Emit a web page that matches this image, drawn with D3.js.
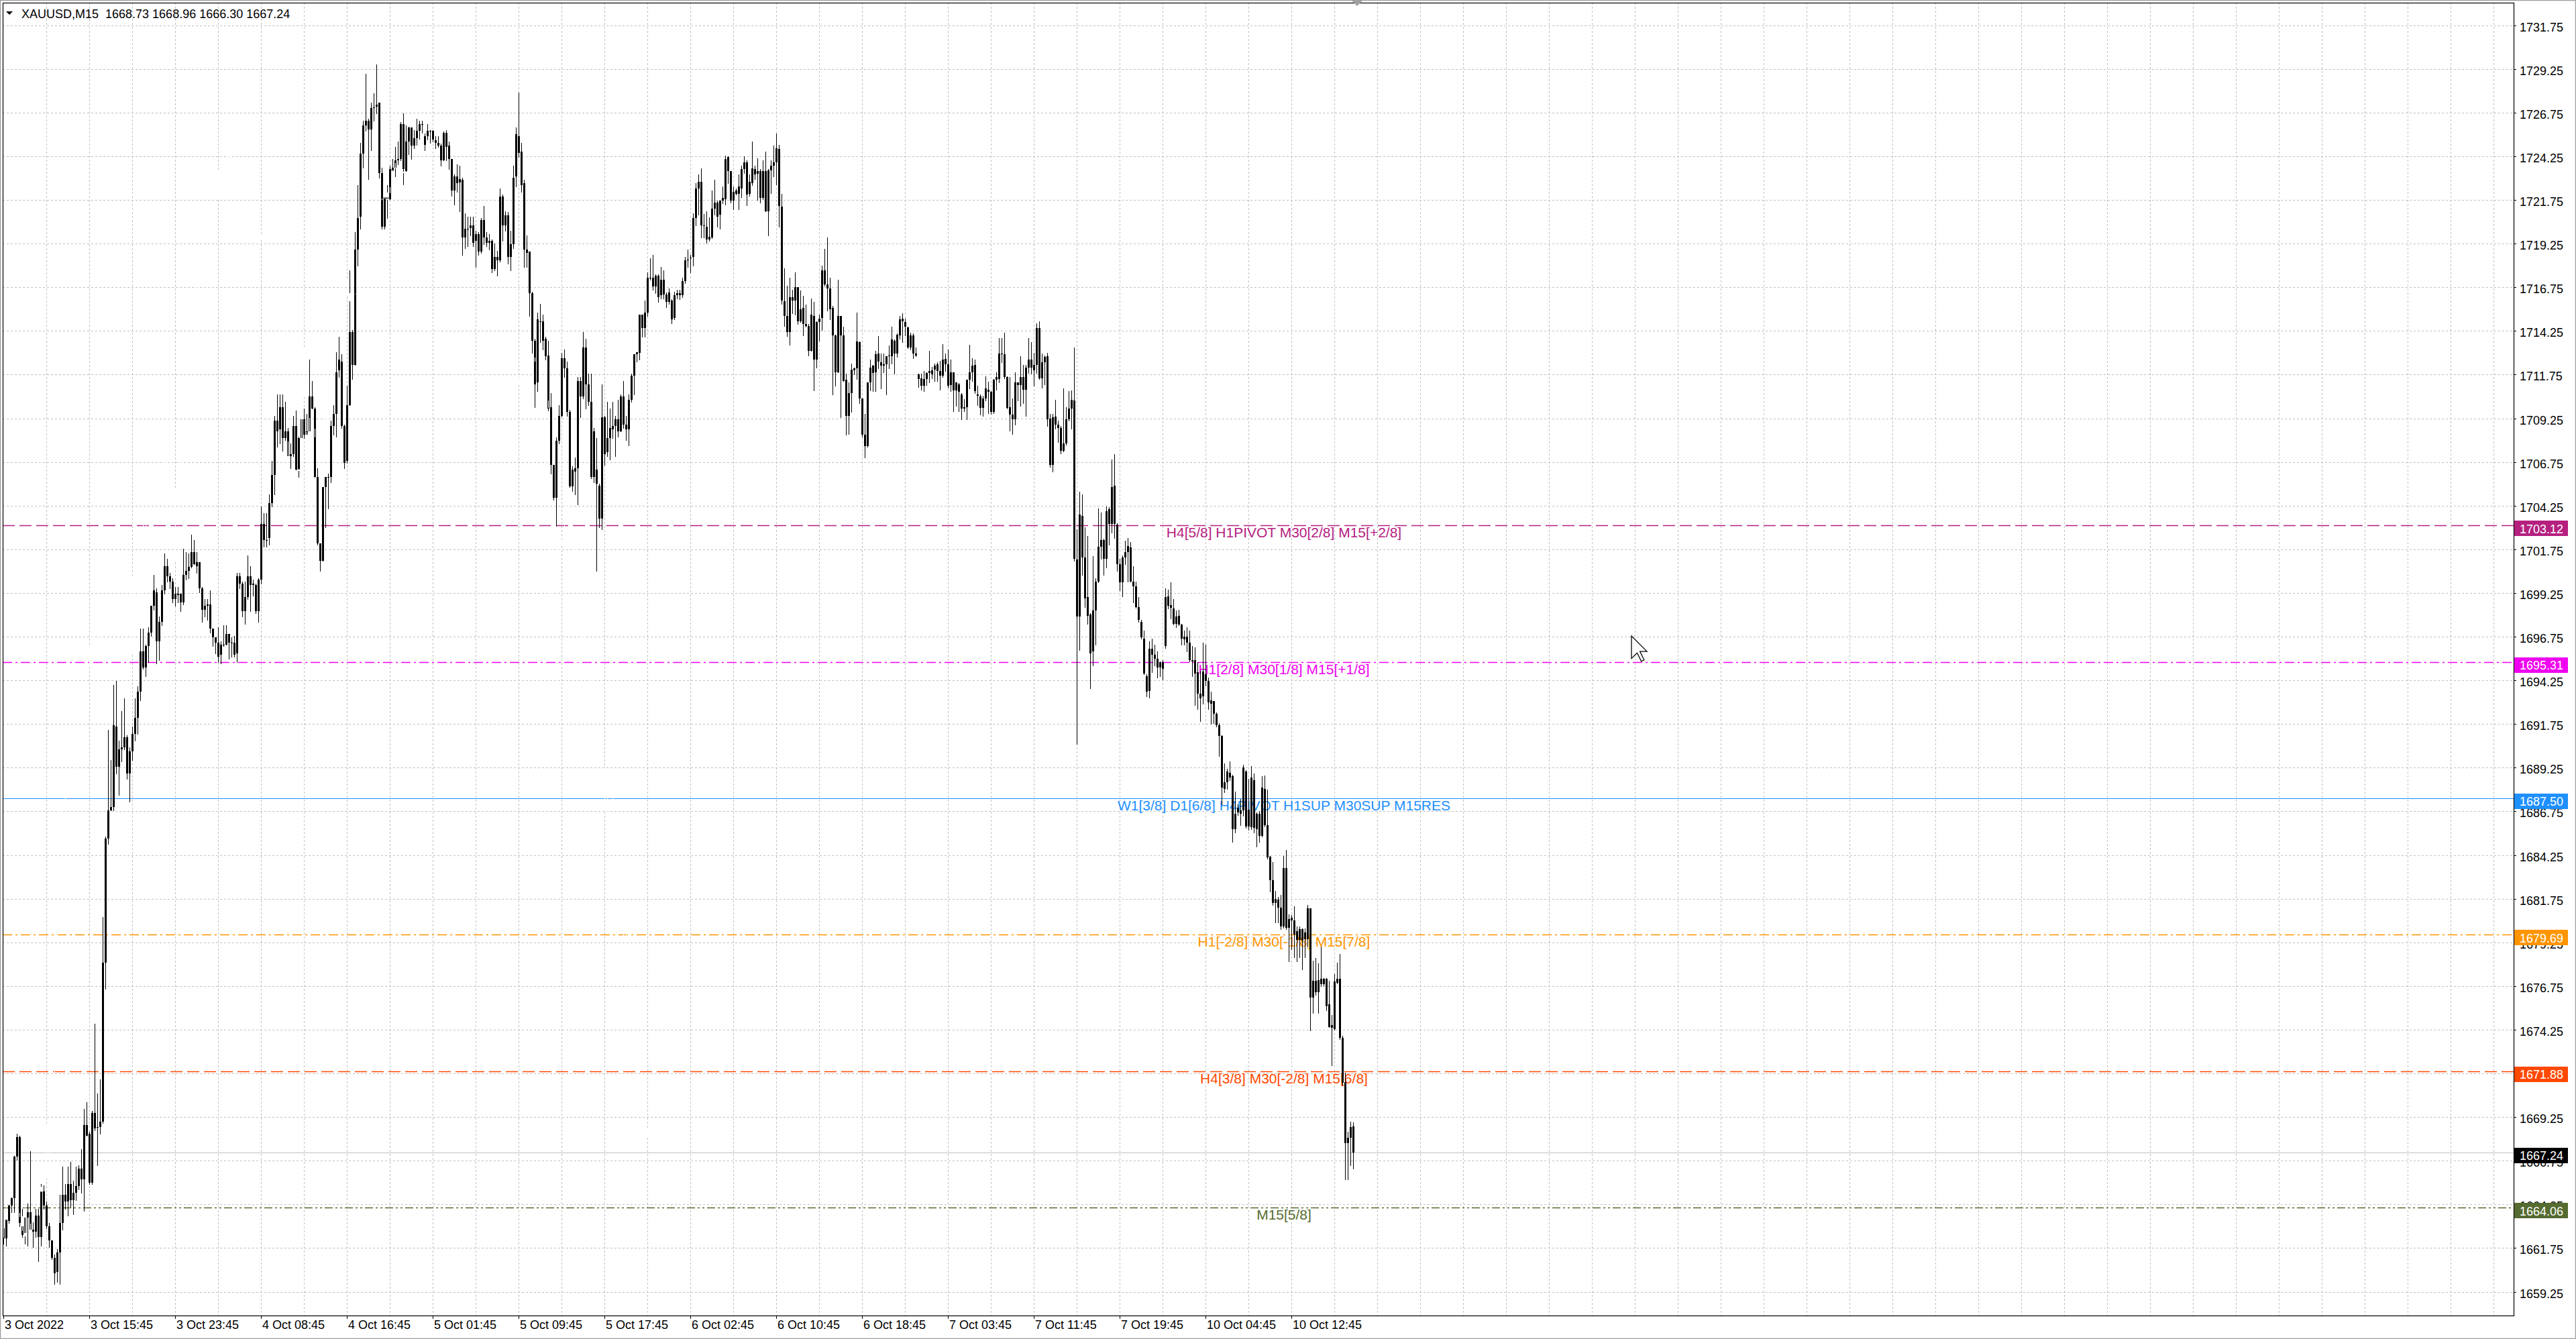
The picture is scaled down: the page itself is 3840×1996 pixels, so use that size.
<!DOCTYPE html>
<html>
<head>
<meta charset="utf-8">
<title>XAUUSD,M15</title>
<script src="https://d3js.org/d3.v7.min.js"></script>
<style>
    html, body { margin: 0; padding: 0; background: #ffffff; overflow: hidden; }
    svg { display: block; }
</style>
</head>
<body>
<script>
// ---- data -------------------------------------------------------------
const sSymbol = "XAUUSD,M15";

// one row per M15 bar: [open, high, low, close], split by trading day
const aBars3Oct = [
    [1662.9,1663.0,1662.0,1662.3],[1662.3,1663.6,1661.9,1663.4],[1663.3,1664.3,1663.2,1664.2],[1664.2,1665.4,1663.8,1664.6],
    [1664.6,1667.6,1663.8,1667.0],[1667.0,1668.3,1666.8,1668.1],[1668.1,1668.2,1663.0,1663.2],[1663.0,1664.0,1662.4,1662.5],
    [1662.6,1663.7,1662.0,1663.5],[1663.5,1664.3,1661.9,1663.8],[1663.8,1667.3,1662.5,1662.8],[1662.8,1664.3,1661.8,1662.7],
    [1662.7,1664.0,1662.4,1663.6],[1663.6,1664.0,1661.0,1662.4],[1662.4,1665.4,1661.9,1665.0],[1665.0,1665.6,1664.0,1664.2],
    [1664.2,1664.4,1662.9,1663.0],[1663.0,1663.2,1661.8,1662.2],[1662.2,1662.2,1661.1,1661.2],[1661.2,1661.4,1659.7,1660.3],
    [1660.4,1661.7,1659.8,1661.5],[1661.5,1664.8,1659.7,1663.2],[1663.2,1666.4,1662.8,1664.8],[1664.8,1665.4,1664.0,1664.4],
    [1664.4,1666.4,1663.6,1665.4],[1665.4,1666.7,1664.1,1664.5],[1664.5,1665.6,1663.7,1664.9],[1664.9,1666.4,1664.5,1665.3],
    [1665.3,1666.5,1665.1,1666.3],[1666.3,1667.4,1664.9,1665.7],[1665.7,1669.7,1663.9,1668.8],[1668.8,1670.1,1668.2,1668.2],
    [1668.3,1668.4,1665.4,1665.5],[1665.5,1669.6,1665.4,1669.5],[1669.5,1674.6,1668.5,1668.6],[1668.7,1670.6,1666.5,1668.65],
    [1668.7,1671.4,1668.3,1669.0],[1669.0,1680.7,1668.9,1678.1],[1678.1,1685.3,1676.6,1685.2],[1685.2,1691.4,1684.9,1686.8],
    [1686.8,1689.7,1686.8,1687.0],[1687.0,1694.0,1686.8,1691.7],[1691.6,1694.2,1688.9,1689.3],[1689.3,1690.8,1687.7,1690.3],
    [1690.3,1692.5,1689.6,1690.4],[1690.4,1693.2,1690.3,1691.0],[1691.0,1691.1,1688.6,1688.9],[1688.9,1690.4,1687.3,1690.2],
    [1690.2,1691.6,1689.7,1691.2],[1691.2,1693.2,1690.8,1692.1],[1692.1,1693.9,1691.2,1693.6],[1693.6,1697.2,1693.1,1695.9],
    [1695.9,1697.2,1694.9,1695.0],[1695.0,1696.3,1694.5,1696.2],[1696.2,1697.3,1695.3,1697.0],[1697.0,1698.5,1696.8,1698.5],
    [1698.5,1700.3,1698.3,1699.4],[1699.3,1699.5,1695.2,1696.5],[1696.5,1697.9,1695.4,1697.6],[1697.6,1699.7,1697.4,1699.4],
    [1699.4,1701.5,1699.2,1700.8],[1700.8,1701.2,1699.9,1700.2],[1700.2,1700.4,1699.5,1699.9],[1699.9,1700.1,1698.7,1698.9],
    [1698.9,1699.6,1698.5,1699.2]
];
const aBars4Oct = [
    [1699.2,1699.6,1698.7,1699.15],[1699.2,1699.2,1698.2,1698.7],[1698.7,1701.8,1698.6,1700.3],[1700.3,1701.6,1700.0,1700.5],
    [1700.5,1701.5,1700.1,1700.75],[1700.75,1702.6,1700.7,1701.6],[1701.6,1702.3,1700.9,1700.9],[1700.8,1701.6,1700.4,1701.0],
    [1701.0,1701.0,1699.3,1699.5],[1699.5,1699.6,1697.6,1698.3],[1698.3,1698.9,1697.9,1698.5],[1698.5,1698.9,1697.7,1698.6],
    [1698.6,1699.4,1697.0,1697.2],[1697.2,1697.2,1696.2,1696.7],[1696.7,1696.7,1695.8,1696.4],[1696.4,1697.3,1695.3,1695.6],
    [1695.7,1696.5,1695.2,1696.3],[1696.3,1697.4,1696.2,1696.3],[1696.3,1697.4,1696.3,1696.9],[1696.9,1696.9,1695.5,1696.4],
    [1696.4,1696.7,1695.6,1696.35],[1696.4,1696.8,1695.6,1695.7],[1695.8,1700.4,1695.3,1700.2],[1700.2,1700.4,1699.5,1699.8],
    [1699.8,1699.9,1697.9,1698.2],[1698.2,1699.9,1697.5,1699.0],[1699.0,1701.4,1698.9,1700.2],[1700.2,1700.8,1698.2,1699.7],
    [1699.8,1700.0,1699.1,1699.7],[1699.7,1699.8,1698.1,1698.2],[1698.2,1700.1,1697.6,1700.0],[1700.0,1704.2,1699.8,1703.2],
    [1703.2,1703.8,1701.9,1702.3],[1702.3,1703.8,1701.9,1702.25],[1702.4,1704.9,1702.0,1704.4],[1704.4,1706.8,1704.2,1706.0],
    [1706.0,1709.4,1704.9,1709.1],[1709.1,1710.6,1707.6,1708.5],[1708.6,1710.6,1707.8,1709.9],[1709.9,1710.6,1707.4,1708.1],
    [1708.1,1710.2,1708.0,1708.5],[1708.5,1708.7,1706.0,1707.1],[1707.1,1707.8,1706.4,1707.2],[1707.2,1709.4,1707.1,1708.8],
    [1708.8,1709.7,1705.6,1706.3],[1706.3,1708.2,1705.9,1708.1],[1708.1,1709.7,1708.1,1709.2],[1709.2,1709.8,1708.1,1708.3],
    [1708.3,1709.5,1707.5,1708.5],[1708.5,1712.6,1707.9,1710.5],[1710.5,1711.4,1709.8,1709.8],[1709.8,1709.9,1705.9,1705.9],
    [1705.9,1706.4,1702.0,1702.1],[1702.1,1702.1,1700.5,1701.1],[1701.1,1705.3,1701.1,1705.3],[1705.3,1705.9,1703.0,1705.9],
    [1705.9,1706.1,1704.1,1705.85],[1705.9,1709.1,1705.6,1708.8],[1708.8,1710.0,1708.3,1709.5],[1709.5,1713.2,1708.2,1711.9],
    [1712.0,1713.9,1711.6,1712.6],[1712.5,1712.9,1708.7,1708.8],[1708.8,1708.9,1706.4,1706.7],[1706.8,1711.1,1706.7,1710.0],
    [1710.0,1717.7,1710.0,1714.2],[1714.2,1714.3,1711.5,1712.3],[1712.3,1719.9,1712.3,1718.9],[1718.9,1722.6,1718.0,1720.7],
    [1720.8,1725.0,1720.1,1724.4],[1724.4,1726.3,1723.6,1726.0],[1726.0,1728.96,1725.7,1726.3],[1726.3,1726.4,1722.95,1725.8],
    [1725.8,1727.3,1724.6,1727.0],[1727.0,1727.85,1726.3,1727.05],[1727.1,1729.5,1726.7,1727.2],[1727.3,1727.3,1723.0,1723.3],
    [1723.3,1723.6,1720.1,1720.2],[1720.2,1722.1,1720.1,1721.9],[1721.9,1722.6,1720.7,1721.8],[1721.8,1723.7,1721.8,1723.5],
    [1723.4,1724.1,1722.7,1723.6],[1723.6,1724.8,1723.1,1724.0],[1724.0,1725.1,1723.8,1724.1],[1724.1,1726.2,1724.0,1726.1],
    [1726.1,1726.7,1722.65,1723.5],[1723.4,1726.0,1723.3,1725.1],[1725.1,1725.95,1724.35,1725.9],[1725.9,1725.9,1724.1,1724.85],
    [1724.85,1725.75,1724.7,1725.3],[1725.3,1726.4,1724.9,1725.7],[1725.7,1726.3,1725.25,1726.1],[1726.1,1726.3,1725.6,1726.1]
];
const aBars5Oct = [
    [1724.9,1725.55,1724.6,1725.4],[1725.4,1726.1,1725.2,1725.7],[1725.7,1725.75,1725.0,1725.7],[1725.7,1725.75,1725.1,1725.2],
    [1725.15,1725.4,1724.7,1725.0],[1725.0,1725.4,1724.8,1724.85],[1724.85,1724.96,1723.7,1724.0],[1724.0,1725.65,1724.0,1725.6],
    [1725.6,1725.75,1724.0,1724.8],[1724.85,1725.1,1723.5,1724.1],[1724.1,1724.1,1722.0,1722.3],[1722.3,1723.2,1721.5,1723.1],
    [1723.1,1723.8,1722.2,1722.7],[1722.75,1723.7,1721.1,1722.95],[1722.9,1723.0,1718.6,1719.6],[1719.6,1721.0,1719.0,1720.1],
    [1720.1,1720.8,1719.1,1720.1],[1720.15,1720.8,1719.7,1720.3],[1720.3,1720.8,1719.1,1719.3],[1719.4,1720.0,1717.9,1719.8],
    [1719.8,1719.9,1718.6,1718.8],[1718.8,1720.7,1718.7,1720.6],[1720.6,1721.4,1719.2,1719.6],[1719.6,1719.9,1719.1,1719.3],
    [1719.3,1719.8,1718.9,1719.4],[1719.4,1719.5,1717.6,1717.8],[1717.8,1719.25,1717.7,1718.5],[1718.5,1718.85,1717.4,1718.3],
    [1718.3,1722.4,1718.2,1721.96],[1721.96,1722.05,1719.4,1720.3],[1720.3,1721.1,1720.0,1720.85],[1720.85,1721.05,1718.1,1718.5],
    [1718.5,1720.0,1717.7,1719.2],[1719.2,1723.7,1719.0,1723.0],[1723.1,1725.9,1722.5,1725.5],[1725.4,1727.9,1724.2,1724.45],
    [1724.5,1725.0,1722.2,1722.6],[1722.7,1722.9,1717.9,1718.9],[1718.9,1719.7,1717.9,1718.7],[1718.8,1718.8,1715.1,1716.4],
    [1716.4,1716.5,1713.0,1713.7],[1713.7,1713.8,1709.9,1711.2],[1711.3,1715.3,1710.8,1714.9],[1714.8,1715.8,1713.6,1714.75],
    [1714.8,1715.2,1713.2,1713.7],[1713.8,1713.9,1712.6,1712.8],[1712.85,1713.7,1709.7,1709.8],[1709.9,1710.7,1706.1,1706.6],
    [1706.6,1706.6,1704.6,1704.7],[1704.7,1708.15,1703.1,1707.97],[1707.97,1710.0,1707.8,1709.4],[1709.4,1713.0,1709.35,1712.7],
    [1712.7,1713.2,1711.6,1712.1],[1712.1,1712.5,1709.4,1709.6],[1709.6,1709.75,1705.3,1705.35],[1705.35,1706.5,1705.1,1706.3],
    [1706.2,1707.0,1704.9,1706.4],[1706.4,1711.6,1704.3,1711.4],[1711.4,1711.6,1709.3,1710.5],[1710.5,1714.2,1710.4,1713.3],
    [1713.3,1713.8,1709.8,1711.2],[1711.2,1711.8,1710.0,1710.2],[1710.2,1711.8,1705.8,1705.9],[1705.9,1708.7,1705.6,1708.5],
    [1706.3,1708.1,1700.5,1705.5],[1705.4,1705.5,1703.0,1703.5],[1703.5,1711.2,1702.9,1709.3],[1709.3,1709.4,1706.6,1707.2],
    [1707.3,1710.2,1707.1,1708.1],[1708.1,1709.8,1706.9,1708.7],[1708.6,1710.2,1708.1,1708.8],[1708.8,1709.4,1707.1,1709.2],
    [1709.2,1710.3,1708.2,1708.5],[1708.5,1710.6,1708.5,1710.5],[1710.5,1711.4,1708.7,1708.9],[1708.9,1709.4,1708.0,1708.6],
    [1708.6,1710.6,1707.7,1710.3],[1710.3,1711.8,1710.2,1711.7],[1711.7,1712.9,1710.6,1712.9],[1712.9,1713.05,1712.5,1713.05],
    [1713.0,1715.2,1712.6,1715.2],[1715.2,1715.2,1713.9,1714.4],[1714.4,1716.0,1713.9,1715.3],[1715.3,1717.6,1715.1,1717.3],
    [1717.3,1718.4,1717.2,1717.3],[1717.3,1718.6,1716.6,1716.8],[1716.8,1717.5,1716.4,1717.4],[1717.4,1717.5,1715.9,1716.2],
    [1716.3,1717.9,1716.1,1717.2],[1717.2,1717.7,1716.1,1716.35],[1716.35,1716.45,1715.6,1715.9],[1715.9,1716.7,1715.8,1716.45]
];
const aBars6Oct = [
    [1716.0,1716.05,1714.7,1714.9],[1715.0,1716.5,1714.9,1716.3],[1716.3,1716.6,1716.1,1716.4],[1716.4,1716.6,1716.05,1716.3],
    [1716.3,1717.3,1716.2,1717.1],[1717.1,1718.5,1717.0,1718.3],[1718.35,1718.9,1717.9,1718.35],[1718.4,1718.6,1717.6,1718.45],
    [1718.5,1721.0,1718.0,1720.7],[1720.7,1722.7,1720.3,1722.4],[1722.4,1723.2,1720.9,1722.8],[1722.8,1723.55,1719.6,1720.3],
    [1720.3,1720.95,1719.6,1720.25],[1720.2,1721.1,1719.3,1719.5],[1719.5,1720.75,1719.4,1719.65],[1719.6,1722.3,1719.55,1721.25],
    [1721.25,1722.9,1720.9,1721.6],[1721.6,1721.7,1720.2,1720.8],[1720.9,1721.7,1720.1,1721.7],[1721.7,1722.5,1721.55,1721.85],
    [1721.8,1724.3,1721.5,1724.1],[1724.2,1724.25,1722.7,1723.4],[1723.4,1723.4,1721.6,1721.7],[1721.7,1722.5,1721.2,1722.2],
    [1722.3,1722.4,1722.05,1722.1],[1722.1,1723.2,1721.2,1722.5],[1722.4,1723.7,1721.9,1723.5],[1723.5,1724.25,1723.3,1723.9],
    [1723.9,1724.0,1721.45,1722.05],[1722.1,1723.2,1722.0,1722.8],[1722.7,1725.1,1722.6,1723.55],[1723.5,1723.7,1722.95,1723.2],
    [1723.25,1724.15,1721.75,1723.4],[1723.4,1723.5,1721.6,1721.85],[1721.85,1724.0,1721.8,1723.4],[1723.4,1724.5,1721.1,1721.1],
    [1721.1,1723.5,1719.7,1723.45],[1723.45,1724.0,1722.15,1723.7],[1723.7,1724.85,1723.1,1723.9],[1723.9,1725.55,1722.65,1724.7],
    [1724.65,1724.9,1720.2,1721.4],[1721.35,1722.1,1715.8,1716.0],[1715.95,1717.85,1714.55,1715.1],[1715.1,1716.85,1713.95,1714.2],
    [1714.2,1717.3,1713.45,1716.2],[1716.2,1716.6,1715.25,1716.0],[1716.0,1717.6,1715.2,1716.75],[1716.75,1716.75,1714.65,1714.8],
    [1714.8,1716.55,1714.75,1715.5],[1715.55,1716.25,1714.0,1714.65],[1714.65,1715.75,1714.5,1714.55],[1714.55,1714.65,1712.85,1713.1],
    [1713.1,1716.1,1713.1,1715.2],[1715.1,1715.9,1710.85,1712.6],[1712.6,1714.8,1712.15,1714.75],[1714.75,1715.2,1713.7,1714.95],
    [1715.0,1718.0,1714.3,1717.7],[1717.7,1718.95,1716.85,1716.9],[1716.9,1719.6,1715.4,1716.7],[1716.7,1717.3,1714.9,1715.5],
    [1715.55,1715.7,1710.6,1714.0],[1714.0,1714.05,1711.1,1711.9],[1711.9,1717.2,1711.9,1715.1],[1715.1,1715.1,1709.3,1714.0],
    [1714.0,1714.5,1711.4,1711.4],[1711.45,1711.8,1708.3,1709.4],[1709.4,1711.3,1708.35,1710.7],[1710.7,1712.4,1709.6,1712.05],
    [1712.0,1712.15,1711.75,1712.1],[1712.1,1715.3,1711.5,1713.65],[1713.6,1713.65,1710.1,1710.4],[1710.4,1710.4,1708.2,1708.3],
    [1708.3,1709.5,1707.0,1707.65],[1707.65,1711.3,1707.6,1711.3],[1711.3,1712.6,1710.85,1712.15],[1712.25,1712.3,1710.8,1711.85],
    [1711.9,1713.1,1710.8,1712.9],[1712.95,1713.95,1712.1,1712.5],[1712.45,1712.95,1710.95,1712.25],[1712.25,1712.95,1711.9,1712.35],
    [1712.35,1712.8,1710.6,1712.8],[1712.8,1713.4,1712.1,1712.85],[1712.8,1714.5,1712.4,1713.75],[1713.7,1713.75,1711.8,1712.95],
    [1712.95,1714.1,1712.75,1714.05],[1714.0,1715.1,1713.8,1714.9],[1714.95,1715.25,1713.6,1714.8],[1714.75,1714.95,1714.0,1714.5],
    [1714.45,1714.5,1713.25,1713.3],[1713.3,1714.15,1713.2,1714.0],[1714.0,1714.1,1712.7,1712.95],[1712.95,1713.3,1712.8,1712.85]
];
const aBars7Oct = [
    [1711.75,1711.8,1711.05,1711.5],[1711.55,1711.8,1710.9,1711.1],[1711.1,1711.95,1710.8,1711.5],[1711.5,1711.9,1711.15,1711.85],
    [1711.85,1713.1,1711.3,1711.95],[1711.75,1712.2,1711.55,1712.0],[1712.05,1712.4,1711.4,1712.25],[1712.35,1712.45,1711.4,1711.95],
    [1711.95,1712.55,1710.9,1711.7],[1711.7,1713.5,1711.6,1712.6],[1712.65,1712.95,1711.95,1712.35],[1712.35,1713.2,1711.0,1711.1],
    [1711.15,1712.6,1710.8,1711.9],[1711.9,1711.9,1709.65,1710.85],[1710.85,1711.3,1709.95,1711.3],[1711.2,1711.25,1709.65,1710.75],
    [1710.6,1710.7,1709.2,1709.8],[1709.8,1710.35,1709.65,1709.9],[1709.9,1711.45,1709.2,1711.45],[1711.45,1713.45,1710.95,1711.9],
    [1711.9,1712.7,1711.4,1712.25],[1712.3,1712.6,1710.7,1710.8],[1710.6,1711.1,1710.0,1710.55],[1710.5,1710.6,1709.45,1709.85],
    [1709.85,1710.55,1709.4,1710.4],[1710.4,1711.65,1710.25,1710.95],[1710.9,1711.35,1709.55,1710.75],[1710.75,1710.8,1709.5,1709.6],
    [1709.6,1711.5,1709.55,1711.45],[1711.45,1711.9,1710.9,1711.6],[1711.5,1713.85,1711.3,1712.95],[1712.95,1713.85,1712.45,1712.9],
    [1712.9,1714.15,1711.55,1711.6],[1711.6,1711.65,1709.8,1709.85],[1709.9,1711.6,1708.55,1709.45],[1709.45,1710.4,1708.35,1709.2],
    [1709.2,1711.9,1708.9,1711.3],[1711.3,1711.3,1710.25,1711.15],[1711.15,1712.8,1709.95,1711.6],[1711.6,1712.3,1710.1,1710.9],
    [1710.9,1712.3,1709.4,1712.15],[1712.15,1713.85,1711.85,1712.6],[1712.6,1713.6,1711.8,1712.15],[1712.0,1713.0,1711.1,1712.3],
    [1712.3,1714.7,1711.85,1714.4],[1714.4,1714.8,1711.5,1711.55],[1711.55,1712.95,1711.0,1712.45],[1712.45,1712.85,1711.2,1712.75],
    [1712.8,1713.0,1708.8,1709.2],[1709.25,1709.5,1706.45,1706.6],[1706.6,1709.5,1706.2,1709.3],[1709.35,1710.3,1708.65,1708.9],
    [1708.9,1709.1,1707.9,1708.7],[1708.7,1708.8,1707.25,1707.4],[1707.4,1710.95,1707.35,1707.8],[1707.8,1709.9,1707.75,1709.2],
    [1709.2,1710.8,1709.1,1709.8],[1709.8,1710.85,1708.65,1710.3],[1710.25,1713.3,1701.1,1701.2],[1701.15,1702.9,1690.6,1697.9],
    [1697.9,1705.05,1696.0,1703.75],[1703.65,1704.9,1700.3,1701.3],[1701.3,1703.0,1698.45,1698.95],[1699.0,1702.5,1697.5,1697.95],
    [1698.0,1698.1,1693.8,1695.8],[1695.9,1701.35,1695.1,1698.25],[1698.25,1700.1,1696.3,1699.9],[1699.9,1704.1,1699.85,1701.9],
    [1701.9,1703.85,1701.2,1702.3],[1702.3,1702.35,1700.3,1701.2],[1701.2,1704.2,1700.7,1703.95],[1704.05,1704.15,1702.0,1703.2],
    [1703.2,1706.9,1702.7,1705.3],[1705.4,1707.2,1702.4,1703.2],[1703.15,1703.25,1700.5,1700.9],[1700.9,1701.2,1699.4,1699.85],
    [1699.85,1701.4,1699.05,1701.3],[1701.3,1702.25,1700.9,1701.6],[1701.6,1702.4,1699.9,1701.95],[1701.85,1702.15,1699.9,1699.9],
    [1699.9,1700.8,1698.7,1699.65],[1699.65,1699.9,1698.4,1698.45],[1698.45,1699.0,1697.6,1697.7],[1697.6,1697.7,1696.65,1696.7],
    [1696.65,1697.1,1694.6,1694.65],[1694.5,1694.6,1693.35,1693.6],[1693.65,1696.5,1693.25,1696.05],[1696.05,1696.65,1694.7,1695.7],
    [1695.7,1696.3,1695.1,1695.5],[1695.5,1695.9,1694.4,1695.0],[1695.0,1695.35,1694.5,1695.3],[1695.3,1695.4,1694.3,1694.9]
];
const aBars10Oct = [
    [1696.2,1699.5,1696.1,1699.0],[1699.05,1699.45,1698.35,1698.5],[1698.55,1699.85,1697.8,1698.4],[1698.35,1698.9,1697.45,1697.5],
    [1697.5,1698.25,1697.3,1697.9],[1697.95,1698.3,1697.4,1697.45],[1697.45,1697.5,1696.3,1696.65],[1696.6,1697.1,1696.3,1696.75],
    [1696.75,1697.3,1695.9,1696.4],[1696.4,1697.1,1695.35,1695.4],[1695.4,1696.2,1694.5,1695.35],[1695.4,1696.15,1692.85,1694.65],
    [1694.7,1695.3,1692.6,1693.5],[1693.5,1694.8,1691.9,1693.2],[1693.35,1696.4,1692.9,1694.75],[1694.6,1696.3,1693.95,1694.2],
    [1694.2,1694.4,1692.6,1693.0],[1692.9,1693.6,1691.75,1693.1],[1693.05,1693.05,1691.8,1692.35],[1692.35,1692.4,1691.6,1691.7],
    [1691.7,1691.8,1689.9,1691.05],[1691.05,1691.1,1687.15,1688.1],[1688.05,1689.5,1687.85,1688.4],[1688.4,1689.2,1688.05,1689.05],
    [1688.95,1689.6,1688.55,1688.7],[1688.75,1688.85,1685.0,1685.75],[1685.75,1687.9,1685.55,1686.6],[1686.95,1687.15,1686.55,1686.7],
    [1686.8,1687.45,1685.95,1686.6],[1686.8,1689.4,1686.5,1689.25],[1689.05,1689.1,1685.8,1685.9],[1686.85,1688.6,1685.7,1685.9],
    [1685.85,1689.35,1685.75,1688.7],[1688.55,1688.9,1685.55,1685.8],[1685.75,1686.7,1684.75,1686.6],[1686.6,1686.75,1685.0,1685.35],
    [1685.35,1688.75,1685.3,1688.1],[1688.05,1688.8,1685.9,1685.95],[1685.95,1688.0,1684.05,1684.1],[1684.15,1684.2,1682.15,1682.8],
    [1682.8,1683.85,1681.4,1681.5],[1681.5,1682.2,1680.4,1681.75],[1681.7,1681.85,1680.4,1681.25],[1681.25,1681.95,1680.0,1680.15],
    [1680.15,1684.2,1680.1,1683.5],[1683.5,1684.55,1680.0,1680.1],[1680.1,1680.85,1678.15,1680.6],[1680.65,1680.8,1678.85,1680.5],
    [1680.5,1681.3,1678.4,1679.7],[1679.9,1680.15,1678.15,1679.4],[1679.4,1680.15,1678.4,1680.0],[1680.0,1680.05,1677.7,1679.35],
    [1679.45,1680.05,1678.4,1679.8],[1679.45,1681.4,1679.0,1681.2],[1681.2,1681.2,1674.2,1676.1],[1676.1,1678.2,1675.2,1677.05],
    [1677.05,1678.35,1676.25,1676.4],[1676.4,1678.05,1675.2,1677.1],[1677.15,1679.0,1676.75,1676.85],[1676.85,1677.2,1676.8,1677.15],
    [1677.15,1677.2,1675.35,1675.6],[1675.7,1677.05,1674.4,1674.4],[1674.5,1675.1,1672.2,1674.35],[1674.3,1677.45,1674.25,1677.0],
    [1676.95,1678.1,1676.9,1677.15],[1677.15,1678.6,1673.7,1673.8],[1673.8,1673.9,1671.1,1671.2],[1671.25,1671.8,1665.7,1667.75],
    [1667.75,1668.4,1665.7,1668.05],[1668.05,1669.0,1666.5,1668.7],[1668.73,1668.96,1666.30,1667.24]
];

// time axis labels, one every 32 bars
const aTimeLabels = ["3 Oct 2022", "3 Oct 15:45", "3 Oct 23:45", "4 Oct 08:45", "4 Oct 16:45", "5 Oct 01:45",
    "5 Oct 09:45", "5 Oct 17:45", "6 Oct 02:45", "6 Oct 10:45", "6 Oct 18:45", "7 Oct 03:45", "7 Oct 11:45",
    "7 Oct 19:45", "10 Oct 04:45", "10 Oct 12:45"];

// price axis labels
const aPriceTicks = [1731.75, 1729.25, 1726.75, 1724.25, 1721.75, 1719.25, 1716.75, 1714.25, 1711.75, 1709.25,
    1706.75, 1704.25, 1701.75, 1699.25, 1696.75, 1694.25, 1691.75, 1689.25, 1686.75, 1684.25, 1681.75, 1679.25,
    1676.75, 1674.25, 1671.75, 1669.25, 1666.75, 1664.25, 1661.75, 1659.25];

// murrey levels drawn as horizontal lines
const aLevelPrice = [1703.12, 1695.31, 1687.50, 1679.69, 1671.88, 1664.06];
const aLevelName = ["H4[5/8] H1PIVOT M30[2/8] M15[+2/8]", "H1[2/8] M30[1/8] M15[+1/8]",
    "W1[3/8] D1[6/8] H4PIVOT H1SUP M30SUP M15RES", "H1[-2/8] M30[-1/8] M15[7/8]",
    "H4[3/8] M30[-2/8] M15[6/8]", "M15[5/8]"];

// ---- layout -----------------------------------------------------------
const iWidth = 3840, iHeight = 1996;
const oPlot = { left: 4, top: 4, right: 3747, bottom: 1961 }; // chart frame
const sFont = '"Liberation Sans", Arial, sans-serif';
const aLevelColor = ["#b5207f", "#f000f0", "#1e90ff", "#ff9500", "#ff4800", "#556b2f"];
const aLevelDash = ["18,7", "14,5,3,5", null, "14,5,3,5", "18,7", "12,4,3,4,3,4"];

const aBars = [].concat(aBars3Oct, aBars4Oct, aBars5Oct, aBars6Oct, aBars7Oct, aBars10Oct);
const oLast = aBars[aBars.length - 1];

const d3X = d3.scaleLinear().domain([0, 935]).range([5, 3745]);              // bar index -> px
const d3Y = d3.scaleLinear().domain([1659.25, 1731.75]).range([1925.6, 37.6]); // price -> px
const fPx = v => Math.round(v) + 0.5;   // centre of a pixel for 1px lines

let d3Svg = d3.select("body").append("svg")
    .attr("width", iWidth)
    .attr("height", iHeight)
    .style("font-family", sFont);

d3Svg.append("rect") // window frame
    .attr("x", 0.5).attr("y", 0.5).attr("width", iWidth - 1).attr("height", iHeight - 1)
    .attr("fill", "#ffffff").attr("stroke", "#a0a0a0").attr("stroke-width", 1.5);

d3Svg.append("clipPath").attr("id", "clipPlot").append("rect")
    .attr("x", oPlot.left).attr("y", oPlot.top)
    .attr("width", oPlot.right - oPlot.left).attr("height", oPlot.bottom - oPlot.top);

// grid
let g = d3Svg.append("g").attr("shape-rendering", "crispEdges").attr("clip-path", "url(#clipPlot)");
g.selectAll("line.h").data(aPriceTicks).enter().append("line")
    .attr("x1", oPlot.left).attr("x2", oPlot.right)
    .attr("y1", p => fPx(d3Y(p))).attr("y2", p => fPx(d3Y(p)))
    .attr("stroke", "#c0c0c0").attr("stroke-dasharray", "3,3");
g.selectAll("line.v").data(d3.range(16, 936, 16)).enter().append("line")
    .attr("x1", i => fPx(d3X(i))).attr("x2", i => fPx(d3X(i)))
    .attr("y1", oPlot.top).attr("y2", oPlot.bottom)
    .attr("stroke", "#c0c0c0").attr("stroke-dasharray", "3,3");

// levels (behind the candles)
g = d3Svg.append("g").attr("clip-path", "url(#clipPlot)");
g.selectAll("line").data(aLevelPrice).enter().append("line")
    .attr("x1", oPlot.left).attr("x2", oPlot.right)
    .attr("y1", p => fPx(d3Y(p))).attr("y2", p => fPx(d3Y(p)))
    .attr("stroke", (p, i) => aLevelColor[i])
    .attr("stroke-width", (p, i) => aLevelDash[i] ? 1.3 : 1)
    .attr("stroke-dasharray", (p, i) => aLevelDash[i]);
g.append("line") // last price line
    .attr("x1", oPlot.left).attr("x2", oPlot.right)
    .attr("y1", fPx(d3Y(oLast[3]))).attr("y2", fPx(d3Y(oLast[3])))
    .attr("stroke", "#c0c0c0").attr("stroke-width", 1);
g.selectAll("text").data(aLevelName).enter().append("text")
    .text(s => s)
    .attr("x", d3X(477.25))
    .attr("y", (s, i) => d3Y(aLevelPrice[i]) + 18)
    .attr("text-anchor", "middle")
    .attr("font-size", "21px")
    .attr("fill", (s, i) => aLevelColor[i]);

// candles
g = d3Svg.append("g").attr("clip-path", "url(#clipPlot)").attr("shape-rendering", "crispEdges");
const fTop = a => Math.round(d3Y(Math.max(a[0], a[3])));
const fBodyH = a => Math.max(1, Math.round(d3Y(Math.min(a[0], a[3]))) - fTop(a));
let d3Bar = g.selectAll("g").data(aBars).enter().append("g");
d3Bar.append("line") // wick
    .attr("x1", (a, i) => fPx(d3X(i))).attr("x2", (a, i) => fPx(d3X(i)))
    .attr("y1", a => Math.round(d3Y(a[1]))).attr("y2", a => Math.round(d3Y(a[2])) + 1)
    .attr("stroke", "#000000");
d3Bar.append("rect") // body
    .attr("x", (a, i) => Math.round(d3X(i)) - 1)
    .attr("y", fTop)
    .attr("width", 3)
    .attr("height", fBodyH)
    .attr("fill", "#000000");
d3Bar.filter(a => a[3] > a[0] && fBodyH(a) > 2).append("rect") // hollow bull body
    .attr("x", (a, i) => Math.round(d3X(i)))
    .attr("y", a => fTop(a) + 1)
    .attr("width", 1)
    .attr("height", a => fBodyH(a) - 2)
    .attr("fill", "#ffffff");

// chart frame
d3Svg.append("rect")
    .attr("x", oPlot.left + 0.5).attr("y", oPlot.top + 0.5)
    .attr("width", oPlot.right - oPlot.left).attr("height", oPlot.bottom - oPlot.top)
    .attr("fill", "none").attr("stroke", "#000000").attr("stroke-width", 1.2);

// price axis
g = d3Svg.append("g");
g.selectAll("line").data(aPriceTicks).enter().append("line")
    .attr("x1", oPlot.right).attr("x2", oPlot.right + 4)
    .attr("y1", p => fPx(d3Y(p))).attr("y2", p => fPx(d3Y(p)))
    .attr("stroke", "#000000").attr("shape-rendering", "crispEdges");
g.selectAll("text").data(aPriceTicks).enter().append("text")
    .text(p => p.toFixed(2))
    .attr("x", oPlot.right + 9)
    .attr("y", p => d3Y(p) + 9)
    .attr("font-size", "18px")
    .attr("fill", "#000000");

// price boxes for levels and last price
const aBoxPrice = aLevelPrice.concat([oLast[3]]);
const aBoxColor = aLevelColor.concat(["#000000"]);
g = d3Svg.append("g");
g.selectAll("rect").data(aBoxPrice).enter().append("rect")
    .attr("x", oPlot.right + 1).attr("y", p => Math.round(d3Y(p)) - 7)
    .attr("width", 80).attr("height", 23)
    .attr("fill", (p, i) => aBoxColor[i]);
g.selectAll("text").data(aBoxPrice).enter().append("text")
    .text(p => p.toFixed(2))
    .attr("x", oPlot.right + 9)
    .attr("y", p => d3Y(p) + 11.5)
    .attr("font-size", "18px")
    .attr("fill", "#ffffff");

// time axis
g = d3Svg.append("g");
g.selectAll("line").data(aTimeLabels).enter().append("line")
    .attr("x1", (s, i) => fPx(d3X(i * 32))).attr("x2", (s, i) => fPx(d3X(i * 32)))
    .attr("y1", oPlot.bottom).attr("y2", oPlot.bottom + 5)
    .attr("stroke", "#000000").attr("shape-rendering", "crispEdges");
g.selectAll("text").data(aTimeLabels).enter().append("text")
    .text(s => s)
    .attr("x", (s, i) => d3X(i * 32) + 2)
    .attr("y", oPlot.bottom + 20)
    .attr("font-size", "18px")
    .attr("fill", "#000000");

// title with the last bar's OHLC
d3Svg.append("path").attr("d", "M9,17 L19,17 L14,22 Z").attr("fill", "#000000");
d3Svg.append("text")
    .text(`${sSymbol}  ${oLast[0].toFixed(2)} ${oLast[1].toFixed(2)} ${oLast[2].toFixed(2)} ${oLast[3].toFixed(2)}`)
    .attr("x", 32).attr("y", 26.5)
    .attr("font-size", "18px")
    .style("white-space", "pre")
    .attr("fill", "#000000");

// chart shift marker
const iShiftX = d3X(aBars.length + 0.5);
d3Svg.append("path")
    .attr("d", `M${iShiftX - 8},1 L${iShiftX + 8},1 L${iShiftX},9 Z`)
    .attr("fill", "#a0a0a0");

// mouse pointer
d3Svg.append("path")
    .attr("d", "M0,0 L0,16 L4,12 L7,18 L9,17 L6,11 L11,11 Z")
    .attr("transform", "translate(2432,948) scale(2.1)")
    .attr("fill", "#ffffff").attr("stroke", "#000000").attr("stroke-width", 0.6);
</script>
</body>
</html>
